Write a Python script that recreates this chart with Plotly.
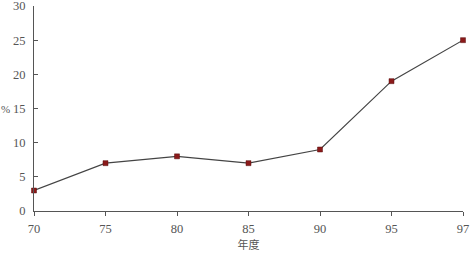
import plotly.graph_objects as go

years = ["70", "75", "80", "85", "90", "95", "97"]
values = [3, 7, 8, 7, 9, 19, 25]
y_ticks = [0, 5, 10, 15, 20, 25, 30]

font_fam = "Liberation Serif, Times New Roman, serif"
cjk_fam = "Noto Sans CJK SC"

fig = go.Figure()
fig.add_trace(go.Scatter(
    x=years, y=values, mode="lines+markers",
    line=dict(color="#444444", width=1.2),
    marker=dict(symbol="square", size=5, color="#8b1a1a",
                line=dict(color="#5a1010", width=0.5)),
    cliponaxis=False,
))

fig.update_layout(
    width=472, height=253,
    margin=dict(l=34, r=9, t=6, b=42, autoexpand=False),
    paper_bgcolor="white", plot_bgcolor="white",
    showlegend=False,
    font=dict(family=font_fam, size=12, color="#555555"),
    xaxis=dict(
        type="category", range=[0, 6], automargin=False,
        showline=True, linecolor="#555555", linewidth=1,
        ticks="outside", ticklen=4, tickcolor="#555555",
        ticklabelstandoff=2,
        showgrid=False, zeroline=False,
        tickfont=dict(family=font_fam, size=12.5, color="#555555"),
        title=dict(text="年度", standoff=6,
                   font=dict(family=cjk_fam, size=11, color="#555555")),
    ),
    yaxis=dict(
        range=[0, 30], tickvals=y_ticks, ticktext=[str(v) for v in y_ticks],
        ticklabeloverflow="allow", automargin=False,
        showline=True, linecolor="#555555", linewidth=1,
        ticks="inside", ticklen=4, tickcolor="#555555",
        ticklabelstandoff=5,
        showgrid=False, zeroline=False,
        tickfont=dict(family=font_fam, size=12.5, color="#555555"),
    ),
    annotations=[dict(
        text="%", xref="paper", yref="paper", x=-0.066, y=0.5,
        xanchor="center", yanchor="middle", showarrow=False,
        font=dict(family=font_fam, size=11, color="#555555"),
    )],
)

fig.write_html("out.html")
